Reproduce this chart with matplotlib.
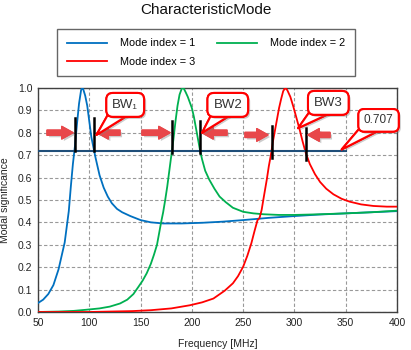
import matplotlib
matplotlib.use("Agg")
import matplotlib.pyplot as plt
import matplotlib.patheffects as pe

plt.rcParams["font.family"] = ["Liberation Sans", "DejaVu Sans"]

# --- data ---
freq_m1 = [50, 55, 60, 65, 70, 73, 76, 78, 80, 82, 84, 86, 88, 90, 92, 93, 94, 96, 98,
           100, 102, 104, 106, 108, 110, 114, 118, 122, 127, 132, 140, 150, 160, 172,
           190, 210, 230, 250, 275, 300, 325, 350, 375, 400]
ms_m1 = [0.04, 0.055, 0.08, 0.12, 0.19, 0.25, 0.31, 0.38, 0.45, 0.56, 0.66, 0.74, 0.84,
         0.93, 0.99, 1.0, 0.995, 0.965, 0.92, 0.85, 0.78, 0.735, 0.69, 0.65, 0.61, 0.555,
         0.515, 0.485, 0.46, 0.445, 0.428, 0.41, 0.40, 0.395, 0.395, 0.398, 0.403, 0.41,
         0.42, 0.428, 0.435, 0.44, 0.445, 0.45]

freq_m2 = [50, 70, 85, 97, 110, 120, 130, 137, 143, 148, 152, 156, 160, 163, 166, 168,
           170, 172, 174, 176, 178, 180, 182, 184, 186, 188, 190, 191, 192, 194, 196, 198,
           200, 202, 204, 206, 208, 210, 213, 217, 222, 227, 233, 240, 250, 260, 270, 285,
           300, 325, 350, 375, 400]
ms_m2 = [0.0, 0.002, 0.005, 0.01, 0.016, 0.024, 0.038, 0.055, 0.08, 0.113, 0.14, 0.173,
         0.215, 0.255, 0.30, 0.35, 0.40, 0.445, 0.50, 0.56, 0.63, 0.70, 0.77, 0.85, 0.92,
         0.97, 0.995, 1.0, 0.998, 0.98, 0.96, 0.935, 0.91, 0.87, 0.82, 0.77, 0.72, 0.68,
         0.63, 0.59, 0.55, 0.515, 0.49, 0.465, 0.447, 0.44, 0.436, 0.433, 0.433, 0.436,
         0.44, 0.445, 0.452]

freq_m3 = [50, 100, 142, 160, 180, 198, 210, 221, 232, 240, 245, 250, 254, 258, 261, 264,
           266, 268, 270, 273, 275, 277, 279, 281, 283, 285, 287, 289, 291, 293, 296, 299,
           302, 305, 308, 311, 315, 320, 325, 331, 338, 346, 354, 365, 377, 390, 400]
ms_m3 = [0.0, 0.0, 0.004, 0.008, 0.016, 0.03, 0.043, 0.06, 0.095, 0.128, 0.16, 0.202, 0.25,
         0.307, 0.36, 0.41, 0.42, 0.455, 0.51, 0.59, 0.65, 0.70, 0.76, 0.81, 0.86, 0.91,
         0.95, 0.985, 1.0, 0.99, 0.96, 0.915, 0.865, 0.815, 0.76, 0.71, 0.66, 0.615, 0.58,
         0.55, 0.525, 0.505, 0.492, 0.48, 0.473, 0.47, 0.47]

level = 0.72
level_end = 350
level_label = "0.707"

# bandwidth edge markers: (freq, top, bottom)
edge_freq = [86, 104.6, 180.9, 207.9, 277.7, 311.2]
edge_top = [0.867, 0.867, 0.85, 0.85, 0.832, 0.82]
edge_bot = [0.72, 0.72, 0.71, 0.71, 0.689, 0.679]

# red pointer arrows: (from, to, y)
arrow_from = [58.8, 129.9, 151.4, 234.2, 251.8, 334.6]
arrow_to = [84.1, 107.5, 178.7, 209.8, 274.2, 313.2]
arrow_y = [0.80, 0.80, 0.80, 0.80, 0.79, 0.79]

# callouts: text, tail tip, box centre
callout_text = ["BW\u2081", "BW2", "BW3", level_label]
callout_xy = [(107, 0.79), (210, 0.80), (303.5, 0.82), (346, 0.725)]
callout_box = [(135, 0.924), (235, 0.924), (333, 0.933), (382, 0.855)]

fig = plt.figure(figsize=(4.11, 3.5), dpi=100)
ax = fig.add_axes([0.0925, 0.1086, 0.8735, 0.6404])

l1, = ax.plot(freq_m1, ms_m1, color="#0070C0", lw=1.3, label="Mode index = 1", zorder=3)
l2, = ax.plot(freq_m2, ms_m2, color="#00B050", lw=1.3, label="Mode index = 2", zorder=3)
l3, = ax.plot(freq_m3, ms_m3, color="#FF0000", lw=1.3, label="Mode index = 3", zorder=3)

ax.plot([50, level_end], [level, level], color="#1F4E79", lw=1.5, zorder=4)

for f, t, b in zip(edge_freq, edge_top, edge_bot):
    ax.plot([f, f], [b, t], color="black", lw=1.8, zorder=5)

shadow = [pe.withSimplePatchShadow(offset=(1.5, -1.5), shadow_rgbFace="gray", alpha=0.4),
          pe.Normal()]
for x0, x1, y in zip(arrow_from, arrow_to, arrow_y):
    ann = ax.annotate("", xy=(x1, y), xytext=(x0, y),
                      arrowprops=dict(arrowstyle="simple,head_length=0.9,head_width=1.0,tail_width=0.4",
                                      color="#E8474A", mutation_scale=9, shrinkA=0, shrinkB=0),
                      zorder=6)
    ann.arrow_patch.set_path_effects(shadow)

for txt, xy, box in zip(callout_text, callout_xy, callout_box):
    size = 8.5 if txt == level_label else 9.5
    ann = ax.annotate(txt, xy=xy, xytext=box, ha="center", va="center", fontsize=size,
                      color="#333333", annotation_clip=False, zorder=7,
                      bbox=dict(boxstyle="round,pad=0.45,rounding_size=0.5", fc="white",
                                ec="#FF0000", lw=1.5),
                      arrowprops=dict(arrowstyle="wedge,tail_width=1.6,shrink_factor=0.5",
                                      fc="white", ec="#FF0000", lw=1.5, shrinkA=0, shrinkB=0,
                                      patchA=None))
    ann.get_bbox_patch().set_path_effects(shadow)
    ann.arrow_patch.set_path_effects(shadow)
    ann.set_clip_on(False)

ax.set_xlim(50, 400)
ax.set_ylim(0, 1.0)
ax.set_xticks([50, 100, 150, 200, 250, 300, 350, 400])
ax.set_yticks([0.0, 0.1, 0.2, 0.3, 0.4, 0.5, 0.6, 0.7, 0.8, 0.9, 1.0])
ax.set_yticklabels([f"{v:.1f}" for v in ax.get_yticks()])
ax.tick_params(labelsize=7.5, length=0, pad=4, colors="#222222")
ax.grid(True, color="#999999", ls=(0, (3, 2)), lw=0.8)
for s in ax.spines.values():
    s.set_color("#404040")
    s.set_linewidth(1.0)

ax.set_xlabel("Frequency [MHz]", fontsize=7.5, labelpad=8, color="#222222")
ax.set_ylabel("Modal significance", fontsize=7.5, labelpad=6, color="#222222")
fig.suptitle("CharacteristicMode", fontsize=11, y=0.99, color="#111111")

# column-major fill: column 1 holds modes 1 and 3, column 2 holds mode 2
leg = fig.legend([l1, l3, l2], [l1.get_label(), l3.get_label(), l2.get_label()],
                 loc="center", bbox_to_anchor=(0.501, 0.85), ncol=2, fontsize=7.8,
                 frameon=True, fancybox=False, edgecolor="#404040", handlelength=3.7,
                 handletextpad=1.2, columnspacing=2.0, borderpad=0.9, labelspacing=0.75)
leg.get_frame().set_linewidth(1.0)

fig.savefig("out.png", dpi=100)
